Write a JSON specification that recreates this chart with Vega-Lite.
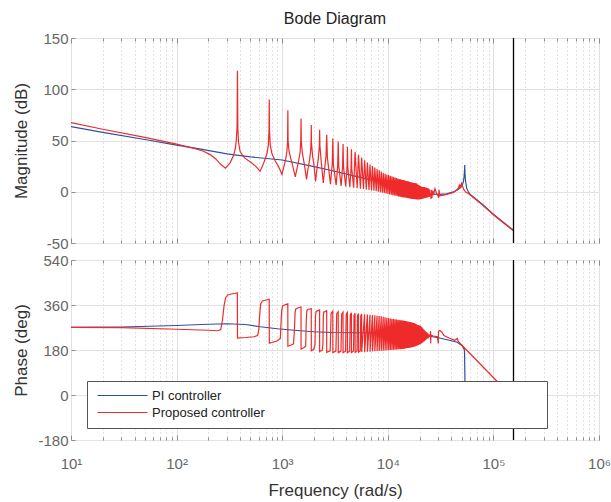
{
"$schema":"https://vega.github.io/schema/vega-lite/v6.json",
"padding":{"left":11,"top":10,"right":5,"bottom":2},
"bounds":"flush",
"spacing":17,
"config":{"font":"Liberation Sans","view":{"stroke":"#8c8c8c","strokeWidth":1},
"axis":{"domain":false,"labelFont":"Liberation Sans","labelFontSize":15,"labelColor":"#666666","titleFont":"Liberation Sans","titleFontSize":17,"titleFontWeight":"normal","titleColor":"#333333","gridColor":"#e3e3e3","ticks":true,"tickSize":-4,"tickColor":"#8c8c8c"}},
"resolve":{"scale":{"color":"shared"}},
"datasets":{
"mag":[
{"s":"a","f":10,"v":63.5},{"s":"a","f":20,"v":58},{"s":"a","f":50,"v":51},{"s":"a","f":100,"v":45.5},{"s":"a","f":170,"v":41.5},{"s":"a","f":300,"v":37},{"s":"a","f":500,"v":34},{"s":"a","f":1000,"v":31},{"s":"a","f":2000,"v":24.5},{"s":"a","f":3000,"v":20.5},{"s":"a","f":5000,"v":15},{"s":"a","f":7000,"v":11.5},{"s":"a","f":10000,"v":8},{"s":"a","f":15000,"v":3},{"s":"a","f":20000,"v":-0.5},{"s":"a","f":25000,"v":-2},{"s":"a","f":30000,"v":-2.5},{"s":"a","f":36000,"v":-2},{"s":"a","f":42000,"v":0},{"s":"a","f":46000,"v":2},{"s":"a","f":49000,"v":4.5},{"s":"a","f":51000,"v":7},{"s":"a","f":52000,"v":10},{"s":"a","f":52800,"v":15},{"s":"a","f":53300,"v":21},{"s":"a","f":53500,"v":26},{"s":"a","f":53800,"v":18},{"s":"a","f":54500,"v":10},{"s":"a","f":56000,"v":3},{"s":"a","f":58000,"v":0},{"s":"a","f":60000,"v":-2.5},{"s":"a","f":70000,"v":-8},{"s":"a","f":80000,"v":-13},{"s":"a","f":100000,"v":-22},{"s":"a","f":125000,"v":-30},{"s":"a","f":155000,"v":-37.5},
{"s":"b","f":10,"v":67.5},{"s":"b","f":20,"v":61},{"s":"b","f":50,"v":53},{"s":"b","f":100,"v":46.5},{"s":"b","f":150,"v":42},{"s":"b","f":180,"v":39.5},{"s":"b","f":210,"v":36},{"s":"b","f":235,"v":32},{"s":"b","f":260,"v":27},{"s":"b","f":290,"v":23},{"s":"b","f":320,"v":28},{"s":"b","f":345,"v":35},{"s":"b","f":360,"v":42},{"s":"b","f":368,"v":51},{"s":"b","f":374,"v":64},{"s":"b","f":377,"v":118},{"s":"b","f":380,"v":62},{"s":"b","f":386,"v":48},{"s":"b","f":400,"v":39},{"s":"b","f":440,"v":33},{"s":"b","f":500,"v":29},{"s":"b","f":560,"v":25},{"s":"b","f":617,"v":20},{"s":"b","f":650,"v":25},{"s":"b","f":690,"v":32},{"s":"b","f":720,"v":38},{"s":"b","f":740,"v":46},{"s":"b","f":750,"v":60},{"s":"b","f":754,"v":90},{"s":"b","f":758,"v":60},{"s":"b","f":770,"v":46},{"s":"b","f":800,"v":37},{"s":"b","f":860,"v":30},{"s":"b","f":930,"v":24},{"s":"b","f":995,"v":17},{"s":"b","f":1030,"v":23},{"s":"b","f":1080,"v":32},{"s":"b","f":1110,"v":40},{"s":"b","f":1125,"v":50},{"s":"b","f":1131,"v":79.5},{"s":"b","f":1137,"v":50},{"s":"b","f":1160,"v":40},{"s":"b","f":1200,"v":33},{"s":"b","f":1260,"v":25},{"s":"b","f":1330,"v":14.5},{"s":"b","f":1370,"v":21},{"s":"b","f":1430,"v":30},{"s":"b","f":1480,"v":39},{"s":"b","f":1500,"v":50},{"s":"b","f":1508,"v":71.5},{"s":"b","f":1516,"v":50},{"s":"b","f":1550,"v":38},{"s":"b","f":1620,"v":27},{"s":"b","f":1700,"v":12},{"s":"b","f":1740,"v":20},{"s":"b","f":1810,"v":30},{"s":"b","f":1860,"v":40},{"s":"b","f":1878,"v":50},{"s":"b","f":1885,"v":65},{"s":"b","f":1892,"v":48},{"s":"b","f":1940,"v":35},{"s":"b","f":2000,"v":26},{"s":"b","f":2070,"v":10},{"s":"b","f":2120,"v":20},{"s":"b","f":2200,"v":33},{"s":"b","f":2250,"v":45},{"s":"b","f":2262,"v":60.5},{"s":"b","f":2275,"v":45},{"s":"b","f":2340,"v":30},{"s":"b","f":2450,"v":8.5},{"s":"b","f":2510,"v":20},{"s":"b","f":2600,"v":35},{"s":"b","f":2639,"v":55.5},{"s":"b","f":2680,"v":33},{"s":"b","f":2865,"v":7.3},
{"s":"b","f":2978,"v":27},{"s":"b","f":3016,"v":52},{"s":"b","f":3054,"v":26},{"s":"b","f":3243,"v":6.4},
{"s":"b","f":3355,"v":26},{"s":"b","f":3393,"v":49},{"s":"b","f":3431,"v":25},{"s":"b","f":3620,"v":5.7},
{"s":"b","f":3732,"v":25},{"s":"b","f":3770,"v":46.5},{"s":"b","f":3808,"v":24},{"s":"b","f":3997,"v":5.1},
{"s":"b","f":4109,"v":24},{"s":"b","f":4147,"v":44},{"s":"b","f":4185,"v":23},{"s":"b","f":4374,"v":4.5},
{"s":"b","f":4486,"v":23},{"s":"b","f":4524,"v":41.5},{"s":"b","f":4562,"v":22},{"s":"b","f":4750,"v":4},
{"s":"b","f":4901,"v":38.8},{"s":"b","f":5127,"v":3.5},{"s":"b","f":5278,"v":36},{"s":"b","f":5504,"v":3},{"s":"b","f":5655,"v":33.3},{"s":"b","f":5881,"v":2.6},{"s":"b","f":6032,"v":30.8},{"s":"b","f":6258,"v":2.1},{"s":"b","f":6409,"v":28.5},{"s":"b","f":6635,"v":1.7},{"s":"b","f":6786,"v":26.6},{"s":"b","f":7012,"v":1.3},{"s":"b","f":7163,"v":25.1},{"s":"b","f":7389,"v":0.9},{"s":"b","f":7540,"v":23.6},{"s":"b","f":7766,"v":0.5},{"s":"b","f":7917,"v":22.1},{"s":"b","f":8143,"v":0},{"s":"b","f":8294,"v":20.9},{"s":"b","f":8520,"v":-0.4},{"s":"b","f":8671,"v":19.7},{"s":"b","f":8897,"v":-0.9},{"s":"b","f":9048,"v":18.6},{"s":"b","f":9274,"v":-1.3},{"s":"b","f":9425,"v":17.6},{"s":"b","f":9651,"v":-1.8},{"s":"b","f":9802,"v":16.8},{"s":"b","f":10028,"v":-2.2},{"s":"b","f":10179,"v":16.2},{"s":"b","f":10405,"v":-2.6},{"s":"b","f":10556,"v":15.6},{"s":"b","f":10782,"v":-3},{"s":"b","f":10933,"v":15},{"s":"b","f":11159,"v":-3.3},{"s":"b","f":11310,"v":14.4},{"s":"b","f":11536,"v":-3.6},{"s":"b","f":11687,"v":13.8},{"s":"b","f":11913,"v":-3.9},{"s":"b","f":12064,"v":13.3},{"s":"b","f":12290,"v":-4.2},{"s":"b","f":12441,"v":12.9},{"s":"b","f":12667,"v":-4.5},{"s":"b","f":12818,"v":12.5},{"s":"b","f":13044,"v":-4.8},{"s":"b","f":13195,"v":12.1},{"s":"b","f":13421,"v":-5},{"s":"b","f":13572,"v":11.7},{"s":"b","f":13798,"v":-5.3},{"s":"b","f":13949,"v":11.4},{"s":"b","f":14175,"v":-5.5},{"s":"b","f":14326,"v":11.1},{"s":"b","f":14552,"v":-5.7},{"s":"b","f":14703,"v":10.8},{"s":"b","f":14929,"v":-5.9},{"s":"b","f":15080,"v":10.5},{"s":"b","f":15306,"v":-6.1},{"s":"b","f":15457,"v":10.2},{"s":"b","f":15683,"v":-6.3},{"s":"b","f":15834,"v":9.9},{"s":"b","f":16060,"v":-6.5},{"s":"b","f":16211,"v":9.6},{"s":"b","f":16437,"v":-6.7},{"s":"b","f":16588,"v":9.3},{"s":"b","f":16814,"v":-6.8},{"s":"b","f":16965,"v":9},{"s":"b","f":17191,"v":-7},{"s":"b","f":17342,"v":8.8},{"s":"b","f":17568,"v":-7.1},{"s":"b","f":17719,"v":8.6},{"s":"b","f":17945,"v":-7.3},{"s":"b","f":18096,"v":8.4},{"s":"b","f":18322,"v":-7.4},{"s":"b","f":18473,"v":8.2},{"s":"b","f":18699,"v":-7.5},{"s":"b","f":18850,"v":8},{"s":"b","f":19076,"v":-7.6},
{"s":"b","f":19227,"v":7},{"s":"b","f":19453,"v":-7.5},{"s":"b","f":19604,"v":6.5},{"s":"b","f":19830,"v":-7.5},{"s":"b","f":19981,"v":6},{"s":"b","f":20207,"v":-7.3},{"s":"b","f":20358,"v":5.5},{"s":"b","f":20584,"v":-7.2},{"s":"b","f":20735,"v":5},{"s":"b","f":20961,"v":-7},{"s":"b","f":21112,"v":4.5},{"s":"b","f":21338,"v":-6.8},{"s":"b","f":21489,"v":4.5},{"s":"b","f":21715,"v":-6.6},{"s":"b","f":21866,"v":4.5},{"s":"b","f":22092,"v":-6.4},{"s":"b","f":22243,"v":4.5},{"s":"b","f":22469,"v":-6.2},{"s":"b","f":22620,"v":4},{"s":"b","f":22846,"v":-6},{"s":"b","f":22997,"v":4},{"s":"b","f":23223,"v":-5.8},{"s":"b","f":23374,"v":4},{"s":"b","f":23600,"v":-5.6},{"s":"b","f":23751,"v":3.5},{"s":"b","f":23977,"v":-5.4},{"s":"b","f":24128,"v":3.5},{"s":"b","f":24354,"v":-5.2},{"s":"b","f":24505,"v":3},{"s":"b","f":24731,"v":-5},{"s":"b","f":24882,"v":2},{"s":"b","f":25108,"v":-4},
{"s":"b","f":25400,"v":-2},{"s":"b","f":25700,"v":-7},{"s":"b","f":25900,"v":2},{"s":"b","f":26200,"v":-6},{"s":"b","f":26600,"v":1},{"s":"b","f":27200,"v":-2},{"s":"b","f":28000,"v":3},{"s":"b","f":28800,"v":-1},{"s":"b","f":29700,"v":-3.5},{"s":"b","f":30300,"v":-6},{"s":"b","f":30600,"v":2},{"s":"b","f":31000,"v":-4},{"s":"b","f":33000,"v":-3.5},{"s":"b","f":36000,"v":-2.6},{"s":"b","f":42000,"v":-0.7},{"s":"b","f":45000,"v":2},{"s":"b","f":46500,"v":3.5},{"s":"b","f":47500,"v":6},{"s":"b","f":48000,"v":3},{"s":"b","f":48700,"v":7},{"s":"b","f":49200,"v":4},{"s":"b","f":50000,"v":8},{"s":"b","f":51000,"v":5.5},{"s":"b","f":52500,"v":2},{"s":"b","f":55000,"v":-0.5},{"s":"b","f":58000,"v":-1.7},{"s":"b","f":60000,"v":-3},{"s":"b","f":70000,"v":-8.5},{"s":"b","f":80000,"v":-13.5},{"s":"b","f":100000,"v":-22.5},{"s":"b","f":125000,"v":-30.5},{"s":"b","f":155000,"v":-38}
],
"ph":[
{"s":"a","f":10,"v":270.5},{"s":"a","f":30,"v":272},{"s":"a","f":100,"v":278},{"s":"a","f":200,"v":283},{"s":"a","f":300,"v":285},{"s":"a","f":450,"v":282},{"s":"a","f":620,"v":273},{"s":"a","f":900,"v":265},{"s":"a","f":1300,"v":259},{"s":"a","f":2000,"v":253},{"s":"a","f":3000,"v":250},{"s":"a","f":5000,"v":249},{"s":"a","f":10000,"v":248},{"s":"a","f":15000,"v":245},{"s":"a","f":23500,"v":237},{"s":"a","f":30000,"v":229},{"s":"a","f":34000,"v":224},{"s":"a","f":40000,"v":217},{"s":"a","f":45500,"v":211},{"s":"a","f":50500,"v":197},{"s":"a","f":52000,"v":188},{"s":"a","f":53000,"v":182},{"s":"a","f":53300,"v":170},{"s":"a","f":53600,"v":100},{"s":"a","f":54000,"v":0},{"s":"a","f":54500,"v":-50},{"s":"a","f":56000,"v":-70},{"s":"a","f":80000,"v":-75},{"s":"a","f":155000,"v":-80},
{"s":"b","f":10,"v":270.5},{"s":"b","f":30,"v":269.5},{"s":"b","f":100,"v":263},{"s":"b","f":200,"v":259},{"s":"b","f":245,"v":257},{"s":"b","f":262,"v":262},{"s":"b","f":272,"v":300},{"s":"b","f":282,"v":360},{"s":"b","f":292,"v":390},{"s":"b","f":305,"v":400},{"s":"b","f":330,"v":404},{"s":"b","f":360,"v":407},{"s":"b","f":376,"v":409},{"s":"b","f":377.5,"v":228},{"s":"b","f":450,"v":230},{"s":"b","f":540,"v":233},{"s":"b","f":585,"v":238},{"s":"b","f":600,"v":260},{"s":"b","f":612,"v":320},{"s":"b","f":625,"v":365},{"s":"b","f":650,"v":376},{"s":"b","f":720,"v":381},{"s":"b","f":753,"v":383},{"s":"b","f":755,"v":207},{"s":"b","f":830,"v":212},{"s":"b","f":900,"v":217},{"s":"b","f":960,"v":226},{"s":"b","f":975,"v":290},{"s":"b","f":990,"v":340},{"s":"b","f":1010,"v":356},{"s":"b","f":1080,"v":362},{"s":"b","f":1130,"v":365},{"s":"b","f":1132,"v":195},{"s":"b","f":1200,"v":199},{"s":"b","f":1280,"v":205},{"s":"b","f":1305,"v":260},{"s":"b","f":1325,"v":330},{"s":"b","f":1345,"v":344},{"s":"b","f":1440,"v":350},{"s":"b","f":1507,"v":352},{"s":"b","f":1509,"v":184},{"s":"b","f":1600,"v":189},{"s":"b","f":1670,"v":196},{"s":"b","f":1690,"v":300},{"s":"b","f":1710,"v":335},{"s":"b","f":1740,"v":342},{"s":"b","f":1884,"v":345},{"s":"b","f":1886,"v":177},{"s":"b","f":1990,"v":183},{"s":"b","f":2045,"v":200},{"s":"b","f":2065,"v":310},{"s":"b","f":2090,"v":334},{"s":"b","f":2261,"v":340},{"s":"b","f":2263,"v":173},{"s":"b","f":2400,"v":180},{"s":"b","f":2430,"v":205},{"s":"b","f":2450,"v":315},{"s":"b","f":2475,"v":331},{"s":"b","f":2638,"v":337},{"s":"b","f":2640,"v":171},{"s":"b","f":2847,"v":177},{"s":"b","f":2904,"v":327},
{"s":"b","f":3013,"v":335},{"s":"b","f":3019,"v":170},{"s":"b","f":3226,"v":176},{"s":"b","f":3283,"v":325},
{"s":"b","f":3390,"v":333},{"s":"b","f":3396,"v":169.5},{"s":"b","f":3603,"v":175.5},{"s":"b","f":3660,"v":323},
{"s":"b","f":3767,"v":331},{"s":"b","f":3773,"v":169},{"s":"b","f":3980,"v":175},{"s":"b","f":4037,"v":322},
{"s":"b","f":4144,"v":330},{"s":"b","f":4150,"v":169.5},{"s":"b","f":4357,"v":175.5},{"s":"b","f":4414,"v":320.5},
{"s":"b","f":4521,"v":328.5},{"s":"b","f":4527,"v":170},{"s":"b","f":4734,"v":176},{"s":"b","f":4791,"v":319},
{"s":"b","f":4898,"v":327},{"s":"b","f":4904,"v":170.5},{"s":"b","f":5111,"v":176.5},{"s":"b","f":5168,"v":317.5},
{"s":"b","f":5275,"v":325.5},{"s":"b","f":5281,"v":171},{"s":"b","f":5488,"v":177},{"s":"b","f":5545,"v":316},
{"s":"b","f":5653,"v":324},{"s":"b","f":5657,"v":172},{"s":"b","f":6030,"v":323},{"s":"b","f":6034,"v":172.5},{"s":"b","f":6407,"v":322},{"s":"b","f":6411,"v":173},{"s":"b","f":6784,"v":321},{"s":"b","f":6788,"v":173.5},{"s":"b","f":7161,"v":319.5},{"s":"b","f":7165,"v":174.5},{"s":"b","f":7538,"v":318.5},{"s":"b","f":7542,"v":175},{"s":"b","f":7915,"v":317},{"s":"b","f":7919,"v":176},{"s":"b","f":8292,"v":316},{"s":"b","f":8296,"v":176.5},{"s":"b","f":8669,"v":315},{"s":"b","f":8673,"v":177},{"s":"b","f":9046,"v":313},{"s":"b","f":9050,"v":177.5},{"s":"b","f":9423,"v":311},{"s":"b","f":9427,"v":178},{"s":"b","f":9800,"v":309},{"s":"b","f":9804,"v":179},{"s":"b","f":10177,"v":307.5},{"s":"b","f":10181,"v":179.5},{"s":"b","f":10554,"v":306},{"s":"b","f":10558,"v":180},{"s":"b","f":10931,"v":305},{"s":"b","f":10935,"v":180.5},{"s":"b","f":11308,"v":304},{"s":"b","f":11312,"v":181},{"s":"b","f":11685,"v":303},{"s":"b","f":11689,"v":181.5},{"s":"b","f":12062,"v":302},{"s":"b","f":12066,"v":182},{"s":"b","f":12439,"v":301},{"s":"b","f":12443,"v":182.5},{"s":"b","f":12816,"v":300},{"s":"b","f":12820,"v":183},{"s":"b","f":13193,"v":299},{"s":"b","f":13197,"v":183.5},{"s":"b","f":13570,"v":298.5},{"s":"b","f":13574,"v":184},{"s":"b","f":13947,"v":297.5},{"s":"b","f":13951,"v":184.5},{"s":"b","f":14324,"v":297},{"s":"b","f":14328,"v":185},{"s":"b","f":14701,"v":296},{"s":"b","f":14705,"v":186},{"s":"b","f":15078,"v":295},{"s":"b","f":15082,"v":187},{"s":"b","f":15455,"v":294},{"s":"b","f":15459,"v":188},{"s":"b","f":15832,"v":293},{"s":"b","f":15836,"v":188.5},{"s":"b","f":16209,"v":292},{"s":"b","f":16213,"v":189},{"s":"b","f":16586,"v":291},{"s":"b","f":16590,"v":190},{"s":"b","f":16963,"v":290},{"s":"b","f":16967,"v":191},{"s":"b","f":17340,"v":289},{"s":"b","f":17344,"v":192},{"s":"b","f":17717,"v":287.5},{"s":"b","f":17721,"v":193},{"s":"b","f":18094,"v":286},{"s":"b","f":18098,"v":194.5},{"s":"b","f":18471,"v":284},{"s":"b","f":18475,"v":196},{"s":"b","f":18848,"v":282},{"s":"b","f":18852,"v":197},{"s":"b","f":19225,"v":280},{"s":"b","f":19229,"v":199},{"s":"b","f":19602,"v":279},{"s":"b","f":19606,"v":200.5},{"s":"b","f":19979,"v":278},{"s":"b","f":19983,"v":202},{"s":"b","f":20356,"v":277},{"s":"b","f":20360,"v":204},{"s":"b","f":20733,"v":274},{"s":"b","f":20737,"v":206},{"s":"b","f":21110,"v":270},{"s":"b","f":21114,"v":208.5},{"s":"b","f":21487,"v":266},{"s":"b","f":21491,"v":211},{"s":"b","f":21864,"v":262},{"s":"b","f":21868,"v":214},{"s":"b","f":22241,"v":259},{"s":"b","f":22245,"v":216.5},{"s":"b","f":22618,"v":256},{"s":"b","f":22622,"v":219},{"s":"b","f":22995,"v":253},{"s":"b","f":22999,"v":221.5},{"s":"b","f":23372,"v":251},{"s":"b","f":23376,"v":224},{"s":"b","f":23749,"v":248},{"s":"b","f":23753,"v":227},{"s":"b","f":24126,"v":245},{"s":"b","f":24130,"v":230},{"s":"b","f":24503,"v":241},{"s":"b","f":24507,"v":233},{"s":"b","f":24880,"v":238},{"s":"b","f":24884,"v":236},
{"s":"b","f":25300,"v":237},{"s":"b","f":25400,"v":256},{"s":"b","f":25500,"v":206},{"s":"b","f":25600,"v":240},{"s":"b","f":27000,"v":236},{"s":"b","f":29500,"v":233},{"s":"b","f":30100,"v":206},{"s":"b","f":30200,"v":255},{"s":"b","f":31000,"v":258},{"s":"b","f":32500,"v":252},{"s":"b","f":34000,"v":238},{"s":"b","f":38000,"v":228},{"s":"b","f":43000,"v":219},{"s":"b","f":45500,"v":226},{"s":"b","f":46500,"v":214},{"s":"b","f":49000,"v":204},{"s":"b","f":107000,"v":57},{"s":"b","f":155000,"v":-10}
]},
"vconcat":[
{"width":528,"height":205,
"title":{"text":"Bode Diagram","fontSize":16,"fontWeight":"normal","color":"#222222","font":"Liberation Sans","offset":4.5,"anchor":"middle"},
"resolve":{"axis":{"x":"independent"}},
"layer":[
{"data":{"name":"mag"},"mark":{"type":"line","strokeWidth":1.2,"clip":true},
"encoding":{
"x":{"field":"f","type":"quantitative","scale":{"type":"log","domain":[10,1000000],"nice":false},
"axis":{"values":[10,20,30,40,50,60,70,80,90,100,200,300,400,500,600,700,800,900,1000,2000,3000,4000,5000,6000,7000,8000,9000,10000,20000,30000,40000,50000,60000,70000,80000,90000,100000,200000,300000,400000,500000,600000,700000,800000,900000,1000000],"labels":false,"title":null,
"gridDash":{"condition":{"test":"abs(log(datum.value)/LN10 - round(log(datum.value)/LN10)) < 0.001","value":[]},"value":[1,3]},
"gridColor":{"condition":{"test":"abs(log(datum.value)/LN10 - round(log(datum.value)/LN10)) < 0.001","value":"#e0e0e0"},"value":"#c4c4c4"},
"tickSize":{"condition":{"test":"abs(log(datum.value)/LN10 - round(log(datum.value)/LN10)) < 0.001","value":-5},"value":-3}}},
"y":{"field":"v","type":"quantitative","scale":{"domain":[-50,150],"nice":false},
"axis":{"values":[-50,0,50,100,150],"labelExpr":"'' + datum.value","title":"Magnitude (dB)","labelPadding":7,"titleX":-45,"titleBaseline":"alphabetic"}},
"color":{"field":"s","type":"nominal","scale":{"domain":["a","b"],"range":["#2e4f9e","#ee2a2a"]},
"legend":{"orient":"none","legendX":16,"legendY":343,"title":null,"symbolType":"M-5,0H5","symbolSize":100,"symbolStrokeWidth":1.2,"symbolOffset":21,"labelOffset":23,"labelFontSize":13,"labelColor":"#222222","labelFont":"Liberation Sans","labelLimit":800,"fillColor":"#ffffff","strokeColor":"#555555","padding":8,"rowPadding":3,"labelExpr":"pad((datum.value == 'a' ? 'PI controller' : 'Proposed controller') + '  ', 46, '\u2800')"}}}},
{"data":{"values":[{"f":155000}]},"mark":{"type":"rule","color":"#000000","strokeWidth":1.3},"encoding":{"x":{"field":"f","type":"quantitative",
"axis":{"orient":"top","values":[10,20,30,40,50,60,70,80,90,100,200,300,400,500,600,700,800,900,1000,2000,3000,4000,5000,6000,7000,8000,9000,10000,20000,30000,40000,50000,60000,70000,80000,90000,100000,200000,300000,400000,500000,600000,700000,800000,900000,1000000],"labels":false,"grid":false,"title":null,
"tickSize":{"condition":{"test":"abs(log(datum.value)/LN10 - round(log(datum.value)/LN10)) < 0.001","value":-5},"value":-3}}}}}
]},
{"width":528,"height":180,
"resolve":{"axis":{"x":"independent"}},
"layer":[
{"data":{"name":"ph"},"mark":{"type":"line","strokeWidth":1.2,"clip":true},
"encoding":{
"x":{"field":"f","type":"quantitative","scale":{"type":"log","domain":[10,1000000],"nice":false},
"axis":{"values":[10,20,30,40,50,60,70,80,90,100,200,300,400,500,600,700,800,900,1000,2000,3000,4000,5000,6000,7000,8000,9000,10000,20000,30000,40000,50000,60000,70000,80000,90000,100000,200000,300000,400000,500000,600000,700000,800000,900000,1000000],"title":"Frequency  (rad/s)","labelFlush":false,"labelOverlap":false,"labelPadding":21,"titlePadding":9,
"labelExpr":"datum.value == 10 ? '10¹' : datum.value == 100 ? '10²' : datum.value == 1000 ? '10³' : datum.value == 10000 ? '10⁴' : datum.value == 100000 ? '10⁵' : datum.value == 1000000 ? '10⁶' : ''",
"gridDash":{"condition":{"test":"abs(log(datum.value)/LN10 - round(log(datum.value)/LN10)) < 0.001","value":[]},"value":[1,3]},
"gridColor":{"condition":{"test":"abs(log(datum.value)/LN10 - round(log(datum.value)/LN10)) < 0.001","value":"#e0e0e0"},"value":"#c4c4c4"},
"tickSize":{"condition":{"test":"abs(log(datum.value)/LN10 - round(log(datum.value)/LN10)) < 0.001","value":-5},"value":-3}}},
"y":{"field":"v","type":"quantitative","scale":{"domain":[-180,540],"nice":false},
"axis":{"values":[-180,0,180,360,540],"labelExpr":"'' + datum.value","title":"Phase (deg)","labelPadding":7,"titleX":-45,"titleBaseline":"alphabetic"}},
"color":{"field":"s","type":"nominal","scale":{"domain":["a","b"],"range":["#2e4f9e","#ee2a2a"]},
"legend":{"orient":"none","legendX":16,"legendY":343,"title":null,"symbolType":"M-5,0H5","symbolSize":100,"symbolStrokeWidth":1.2,"symbolOffset":21,"labelOffset":23,"labelFontSize":13,"labelColor":"#222222","labelFont":"Liberation Sans","labelLimit":800,"fillColor":"#ffffff","strokeColor":"#555555","padding":8,"rowPadding":3,"labelExpr":"pad((datum.value == 'a' ? 'PI controller' : 'Proposed controller') + '  ', 46, '\u2800')"}}}},
{"data":{"values":[{"f":155000}]},"mark":{"type":"rule","color":"#000000","strokeWidth":1.3},"encoding":{"x":{"field":"f","type":"quantitative",
"axis":{"orient":"top","values":[10,20,30,40,50,60,70,80,90,100,200,300,400,500,600,700,800,900,1000,2000,3000,4000,5000,6000,7000,8000,9000,10000,20000,30000,40000,50000,60000,70000,80000,90000,100000,200000,300000,400000,500000,600000,700000,800000,900000,1000000],"labels":false,"grid":false,"title":null,
"tickSize":{"condition":{"test":"abs(log(datum.value)/LN10 - round(log(datum.value)/LN10)) < 0.001","value":-5},"value":-3}}}}}
]}
]}
